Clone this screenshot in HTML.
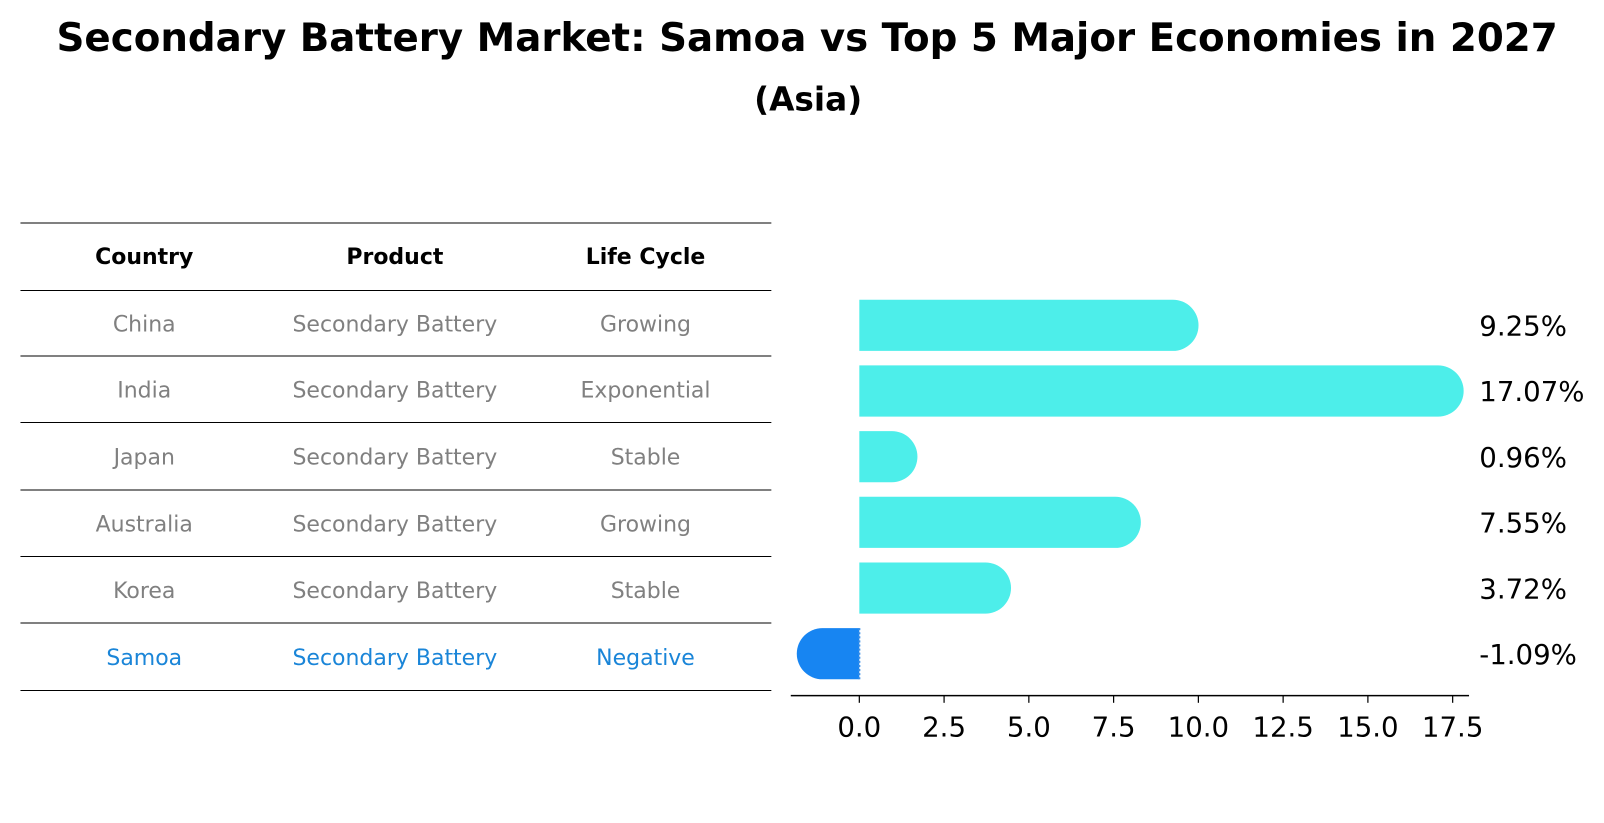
<!DOCTYPE html>
<html><head><meta charset="utf-8"><style>
html,body{margin:0;padding:0;background:#fff;width:1604px;height:823px;overflow:hidden;}
svg{display:block;}
svg text{font-family:"DejaVu Sans","Liberation Sans",sans-serif;}
</style></head><body>
<svg width="1604" height="823" viewBox="0 0 1604 823" xmlns="http://www.w3.org/2000/svg">
<g transform="scale(1.023)">
<text x="789" y="50" text-anchor="middle" font-size="37.9" font-weight="bold">Secondary Battery Market: Samoa vs Top 5 Major Economies in 2027</text>
<text x="790" y="108" text-anchor="middle" font-size="32" font-weight="bold">(Asia)</text>
<g id="table"></g>
<g id="bars"></g>
</g>
</svg>
<script>
const countries=["China","India","Japan","Australia","Korea","Samoa"];
const products=["Secondary Battery","Secondary Battery","Secondary Battery","Secondary Battery","Secondary Battery","Secondary Battery"];
const lifeCycles=["Growing","Exponential","Stable","Growing","Stable","Negative"];
const values=[9.25,17.07,0.96,7.55,3.72,-1.09];
const ticks=[0,2.5,5,7.5,10,12.5,15,17.5];
const NS="http://www.w3.org/2000/svg";
function mk(t,a,p){const e=document.createElementNS(NS,t);for(const k in a)e.setAttribute(k,a[k]);p.appendChild(e);return e;}
const tb=document.getElementById('table');
const lineYs=[218,284,348,413,479,544,609,675];
lineYs.forEach((y,i)=>{const l=mk('line',{x1:20,x2:754,y1:y,y2:y,stroke:'#000','stroke-width':1},tb);

});
const cx=[141,386,631];
["Country","Product","Life Cycle"].forEach((h,i)=>{const t=mk('text',{x:cx[i],y:258,'text-anchor':'middle','font-size':21.5,'font-weight':'bold'},tb);t.textContent=h;

});
countries.forEach((c,r)=>{const y=(lineYs[r+1]+lineYs[r+2])/2+8;const col=c==="Samoa"?"#1a85d8":"#808080";
[c,products[r],lifeCycles[r]].forEach((v,i)=>{const t=mk('text',{x:cx[i],y:y,'text-anchor':'middle','font-size':21.5,fill:col},tb);t.textContent=v;

});});
const g=document.getElementById('bars');
const x0=840,ppu=(1420-840)/17.5;
const X=v=>x0+v*ppu;
const barTop=293,step=64.2,bh=50,r=25;
values.forEach((v,i)=>{const y=barTop+i*step;const xe=X(v);const neg=v<0;const col=neg?'#1785f2':'#4deeea';
const path=neg?`M${x0},${y} L${xe},${y} A${r},${r} 0 0 0 ${xe},${y+bh} L${x0},${y+bh} Z`:`M${x0},${y} L${xe},${y} A${r},${r} 0 0 1 ${xe},${y+bh} L${x0},${y+bh} Z`;
const p=mk('path',{d:path,fill:col},g);


if(neg){const d=mk('line',{x1:x0,x2:x0,y1:y,y2:y+bh,stroke:'#3a8ee6','stroke-width':2,'stroke-dasharray':'2,2'},g);

}
const t=mk('text',{x:1446,y:y+bh/2+10,'font-size':27},g);t.textContent=v.toFixed(2)+'%';

});
const ax=mk('line',{x1:773,x2:1436,y1:680,y2:680,stroke:'#000','stroke-width':1.5},g);


ticks.forEach(tv=>{const x=X(tv);const l=mk('line',{x1:x,x2:x,y1:680,y2:687,stroke:'#000','stroke-width':1.2},g);


const t=mk('text',{x:x,y:720,'text-anchor':'middle','font-size':27},g);t.textContent=tv.toFixed(1);

});
</script>
</body></html>
